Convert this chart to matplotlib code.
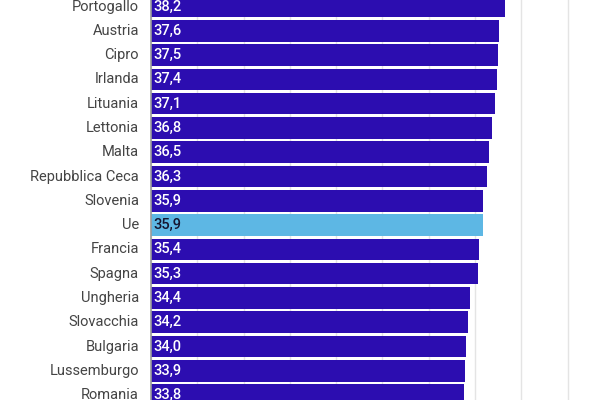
import matplotlib
matplotlib.use("Agg")
import matplotlib.pyplot as plt

countries = ["Portogallo", "Austria", "Cipro", "Irlanda", "Lituania", "Lettonia", "Malta",
             "Repubblica Ceca", "Slovenia", "Ue", "Francia", "Spagna", "Ungheria",
             "Slovacchia", "Bulgaria", "Lussemburgo", "Romania"]
values = [38.2, 37.6, 37.5, 37.4, 37.1, 36.8, 36.5, 36.3, 35.9, 35.9, 35.4, 35.3, 34.4,
          34.2, 34.0, 33.9, 33.8]
highlight = "Ue"

plt.rcParams['font.family'] = ['Roboto', 'DejaVu Sans']

DARK = "#2C0DB0"
LIGHT = "#5DB7E4"

fig = plt.figure(figsize=(6, 4), dpi=100)
px = 9.26  # pixels per unit
left = 151 / 600
width = (50 * px) / 600
ax = fig.add_axes([left, 0, width, 1])

ypos = list(range(len(countries)))
colors = [LIGHT if c == highlight else DARK for c in countries]
ax.barh(ypos, values, height=0.89, color=colors, zorder=2)

pitch = 24.29
ax.set_ylim((400 - 6.5) / pitch, -6.5 / pitch)
ax.set_xlim(0, 50)

for y, v, c in zip(ypos, values, countries):
    ax.text(0.3, y, f"{v:.1f}".replace(".", ","), va="center", ha="left",
            fontsize=10.5, fontweight="medium",
            color=("#151530" if c == highlight else "white"), zorder=3)
    ax.text(-12 / px, y, c, va="center", ha="right", fontsize=10.5,
            color="#444444", zorder=3)

ax.set_xticks(range(0, 51, 5))
ax.grid(axis="x", color="#e4e4e4", linewidth=1, zorder=0)
ax.tick_params(left=False, bottom=False, labelleft=False, labelbottom=False)
for s in ["top", "right", "bottom"]:
    ax.spines[s].set_visible(False)
ax.spines["left"].set_color("#9a9a9a")
ax.spines["left"].set_linewidth(1.2)
ax.spines["left"].set_zorder(4)

fig.savefig("out.png", dpi=100)
